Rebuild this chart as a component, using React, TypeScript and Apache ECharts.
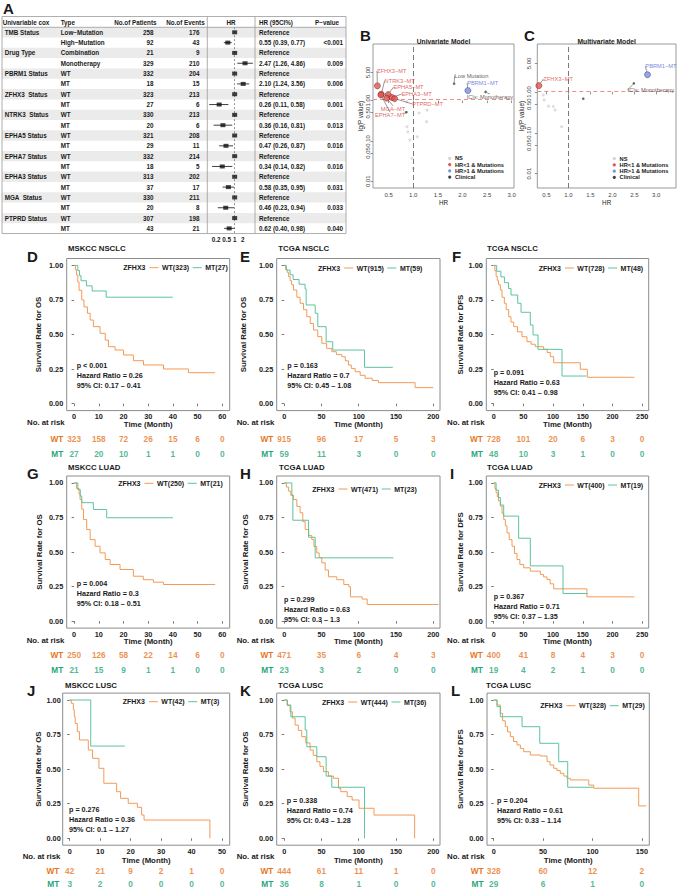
import { useEffect, useRef } from 'react';
import * as echarts from 'echarts';

const FONT = '"Liberation Sans", Arial, Helvetica, sans-serif';
const ORANGE = '#F39A55';
const TEAL = '#5DC39E';
const ORANGE_T = '#E8761E';
const TEAL_T = '#1FA67A';
const RED = '#E0544F';
const BLUE = '#7D8FE0';
const CLIN = '#2F4F3F';
const NSCOL = '#D4D4D4';

// ---------------- Panel A : univariable cox table ----------------
const A_VARIABLES = ['TMB Status', 'Drug Type', 'PBRM1 Status', 'ZFHX3  Status', 'NTRK3  Status', 'EPHA5 Status', 'EPHA7 Status', 'EPHA3 Status', 'MGA  Status', 'PTPRD Status'];
const A_TYPES = ['Low−Mutation', 'High−Mutation', 'Combination', 'Monotherapy', 'WT', 'MT', 'WT', 'MT', 'WT', 'MT', 'WT', 'MT', 'WT', 'MT', 'WT', 'MT', 'WT', 'MT', 'WT', 'MT'];
const A_PATIENTS = [258, 92, 21, 329, 332, 18, 323, 27, 330, 20, 321, 29, 332, 18, 313, 37, 330, 20, 307, 43];
const A_EVENTS = [176, 43, 9, 210, 204, 15, 213, 6, 213, 6, 208, 11, 214, 5, 202, 17, 211, 8, 198, 21];
const A_HR = [1, 0.55, 1, 2.47, 1, 2.10, 1, 0.26, 1, 0.36, 1, 0.47, 1, 0.34, 1, 0.58, 1, 0.46, 1, 0.62];
const A_LO = [null, 0.39, null, 1.26, null, 1.24, null, 0.11, null, 0.16, null, 0.26, null, 0.14, null, 0.35, null, 0.23, null, 0.40];
const A_HI = [null, 0.77, null, 4.86, null, 3.56, null, 0.58, null, 0.81, null, 0.87, null, 0.82, null, 0.95, null, 0.94, null, 0.98];
const A_HR_TEXT = ['Reference', '0.55 (0.39, 0.77)', 'Reference', '2.47 (1.26, 4.86)', 'Reference', '2.10 (1.24, 3.56)', 'Reference', '0.26 (0.11, 0.58)', 'Reference', '0.36 (0.16, 0.81)', 'Reference', '0.47 (0.26, 0.87)', 'Reference', '0.34 (0.14, 0.82)', 'Reference', '0.58 (0.35, 0.95)', 'Reference', '0.46 (0.23, 0.94)', 'Reference', '0.62 (0.40, 0.98)'];
const A_P = ['', '<0.001', '', '0.009', '', '0.006', '', '0.001', '', '0.013', '', '0.016', '', '0.016', '', '0.031', '', '0.033', '', '0.040'];
const A_TICKS = [0.2, 0.5, 1, 2];

// ---------------- Panel B : univariate model ----------------
const B_NS_HR = [0.83, 0.87, 0.89, 0.93, 1.08, 1.12, 1.27, 0.97, 1.0, 0.87, 1.28];
const B_NS_P = [0.50, 0.225, 0.169, 0.105, 0.127, 0.49, 0.30, 0.037, 0.021, 0.94, 0.58];
const B_RED_NAMES = ['ZFHX3−MT', 'NTRK3−MT', 'EPHA7−MT', 'EPHA5−MT', 'MGA−MT', 'EPHA3−MT', 'PTPRD−MT'];
const B_RED_HR = [0.27, 0.35, 0.34, 0.49, 0.46, 0.57, 0.62];
const B_RED_P = [2.32, 1.44, 1.38, 1.41, 1.15, 1.19, 1.12];
const B_BLUE_NAMES = ['PBRM1−MT'];
const B_BLUE_HR = [2.11];
const B_BLUE_P = [1.77];
const B_CLIN_NAMES = ['Low Mutation', 'ICIs: Monotherapy', ''];
const B_CLIN_HR = [1.83, 2.47, 0.86];
const B_CLIN_P = [2.64, 1.64, 0.515];

// ---------------- Panel C : multivariate model ----------------
const C_NS_HR = [0.43, 0.55, 0.66, 0.70, 0.85, 0.45];
const C_NS_P = [0.84, 0.45, 0.44, 0.36, 0.141, 0.64];
const C_RED_NAMES = ['ZFHX3−MT'];
const C_RED_HR = [0.33];
const C_RED_P = [1.43];
const C_BLUE_NAMES = ['PBRM1−MT'];
const C_BLUE_HR = [2.80];
const C_BLUE_P = [2.65];
const C_CLIN_NAMES = ['ICIs: Monotherapy', ''];
const C_CLIN_HR = [2.49, 1.34];
const C_CLIN_P = [1.63, 0.685];

const P_THRESHOLD = 1.06;
const HR_TICKS = [0.5, 1.0, 1.5, 2.0, 2.5, 3.0];
const P_TICKS = [0.01, 0.05, 0.10, 0.50, 1.00, 5.00, 10.00];
const LEGEND_LABELS = ['NS', 'HR<1 & Mutations', 'HR>1 & Mutations', 'Clinical'];

// ---------------- KM panels ----------------
const SURV_TICKS = [0, 0.25, 0.5, 0.75, 1];
const T60 = [0, 10, 20, 30, 40, 50, 60];
const T50 = [0, 10, 20, 30, 40, 50];
const T200 = [0, 50, 100, 150, 200];
const T250 = [0, 50, 100, 150, 200, 250];
const T150 = [0, 50, 100, 150];

const D_WT = [[0, 1], [0.5, 0.97], [1, 0.93], [1.5, 0.88], [2, 0.82], [3.1, 0.75], [4, 0.70], [5.4, 0.654], [6.5, 0.605], [7.8, 0.557], [10.5, 0.509], [12.6, 0.46], [13.9, 0.412], [16.6, 0.388], [20, 0.352], [24, 0.311], [28.1, 0.28], [36.2, 0.251], [46.3, 0.224], [57.1, 0.224]];
const D_MT = [[0, 1], [1.5, 0.963], [2.2, 0.926], [2.8, 0.889], [5, 0.852], [7.3, 0.815], [13, 0.77], [40, 0.77]];
const D_N = [323, 27];
const D_STATS = ['p < 0.001', '0.26', '0.17 – 0.41'];
const D_RISK_WT = [323, 158, 72, 26, 15, 6, 0];
const D_RISK_MT = [27, 20, 10, 1, 1, 0, 0];

const E_WT = [[0, 1], [2, 0.97], [4, 0.95], [6, 0.92], [8, 0.89], [10, 0.86], [12.5, 0.822], [17, 0.77], [21.4, 0.726], [26, 0.68], [30.4, 0.629], [35, 0.58], [39.3, 0.533], [45, 0.485], [50.5, 0.437], [57, 0.40], [63.9, 0.376], [70, 0.355], [77.3, 0.34], [82, 0.31], [86.2, 0.28], [90, 0.255], [95.2, 0.231], [102, 0.205], [108.6, 0.184], [118, 0.168], [126.4, 0.152], [175.6, 0.116], [200, 0.116]];
const E_MT = [[0, 1], [3, 0.966], [8, 0.932], [12, 0.898], [20, 0.864], [28, 0.83], [29.5, 0.714], [41.6, 0.654], [45.1, 0.557], [56.3, 0.448], [65.2, 0.388], [107.7, 0.263], [145.7, 0.263]];
const E_N = [915, 59];
const E_STATS = ['p = 0.163', '0.7', '0.45 – 1.08'];
const E_RISK_WT = [915, 96, 17, 5, 3];
const E_RISK_MT = [59, 11, 3, 0, 0];

const F_WT = [[0, 1], [2, 0.96], [4, 0.92], [6, 0.89], [8, 0.86], [11.2, 0.822], [14, 0.77], [17.9, 0.726], [21, 0.68], [25.2, 0.629], [29, 0.59], [33.6, 0.557], [40, 0.52], [47.6, 0.484], [56, 0.448], [63, 0.43], [70, 0.412], [84.1, 0.393], [90, 0.37], [95.3, 0.34], [101, 0.296], [145.8, 0.249], [157.6, 0.191], [237, 0.191]];
const F_MT = [[0, 1], [5, 0.958], [12, 0.917], [18, 0.875], [25, 0.833], [29.1, 0.786], [40.4, 0.726], [46, 0.661], [61.6, 0.569], [66.2, 0.497], [74.6, 0.393], [115, 0.2], [156, 0.2]];
const F_N = [728, 48];
const F_STATS = ['p = 0.091', '0.63', '0.41 – 0.98'];
const F_RISK_WT = [728, 101, 20, 6, 3, 0];
const F_RISK_MT = [48, 10, 3, 1, 0, 0];

const G_WT = [[0, 1], [1, 0.96], [2, 0.92], [2.4, 0.88], [3.1, 0.81], [3.8, 0.735], [5.1, 0.663], [6.5, 0.59], [8.5, 0.542], [10.5, 0.494], [12.6, 0.446], [14.6, 0.41], [18.6, 0.374], [24, 0.325], [28, 0.30], [32.1, 0.282], [36.2, 0.265], [57.1, 0.265]];
const G_MT = [[0, 1], [1.5, 0.952], [2.5, 0.905], [3.1, 0.857], [7.8, 0.808], [13.2, 0.748], [40, 0.748]];
const G_N = [250, 21];
const G_STATS = ['p = 0.004', '0.3', '0.18 – 0.51'];
const G_RISK_WT = [250, 126, 58, 22, 14, 6, 0];
const G_RISK_MT = [21, 15, 9, 1, 1, 0, 0];

const H_WT = [[0, 1], [3, 0.97], [6, 0.94], [9, 0.91], [12.5, 0.88], [17, 0.83], [21.4, 0.784], [25, 0.72], [28.2, 0.663], [33, 0.62], [37.1, 0.59], [40, 0.54], [43.8, 0.494], [47, 0.46], [50.5, 0.422], [55, 0.37], [59.4, 0.321], [70.6, 0.30], [80, 0.265], [86.8, 0.249], [88.9, 0.176], [104.6, 0.16], [111.3, 0.121], [207, 0.121]];
const H_MT = [[0, 1], [10.3, 0.913], [11.7, 0.73], [32.7, 0.607], [41.6, 0.458], [146.6, 0.458]];
const H_N = [471, 23];
const H_STATS = ['p = 0.299', '0.63', '0.3 – 1.3'];
const H_RISK_WT = [471, 35, 6, 4, 3];
const H_RISK_MT = [23, 3, 2, 0, 0];

const I_WT = [[0, 1], [2, 0.96], [4, 0.93], [6, 0.9], [8, 0.87], [11.2, 0.832], [14, 0.78], [16.8, 0.735], [19.5, 0.69], [22.4, 0.639], [26, 0.59], [30.8, 0.542], [35, 0.49], [39.2, 0.446], [44, 0.41], [50.5, 0.386], [61.6, 0.362], [78.5, 0.338], [84, 0.32], [89.7, 0.302], [95, 0.27], [101, 0.234], [157, 0.176], [237, 0.176]];
const I_MT = [[0, 1], [4, 0.947], [8, 0.895], [11.2, 0.84], [16.8, 0.76], [42, 0.60], [61.6, 0.40], [116.7, 0.20], [158, 0.20]];
const I_N = [400, 19];
const I_STATS = ['p = 0.367', '0.71', '0.37 – 1.35'];
const I_RISK_WT = [400, 41, 8, 4, 3, 0];
const I_RISK_MT = [19, 4, 2, 1, 0, 0];

const J_WT = [[0, 1], [0.5, 0.976], [1.2, 0.93], [1.5, 0.88], [1.8, 0.83], [2.5, 0.771], [3.2, 0.711], [6.1, 0.638], [7.5, 0.578], [9.6, 0.506], [11.2, 0.398], [15.4, 0.337], [16.7, 0.289], [19.2, 0.253], [22.2, 0.224], [23.6, 0.168], [24.4, 0.132], [46, 0.132], [46, 0]];
const J_MT = [[0, 1], [6.9, 0.667], [18.1, 0.667]];
const J_N = [42, 3];
const J_STATS = ['p = 0.276', '0.36', '0.1 – 1.27'];
const J_RISK_WT = [42, 21, 9, 2, 1, 0];
const J_RISK_MT = [3, 2, 0, 0, 0, 0];

const K_WT = [[0, 1], [1.3, 1], [4, 0.96], [8, 0.915], [11, 0.87], [14.7, 0.819], [19, 0.78], [23.6, 0.735], [29, 0.69], [34.8, 0.638], [39, 0.6], [43.8, 0.554], [48, 0.52], [52.7, 0.482], [59.4, 0.45], [66.1, 0.434], [72.9, 0.362], [75.9, 0.337], [84.5, 0.301], [91.2, 0.277], [100.4, 0.217], [120.5, 0.168], [175, 0.168], [175, 0]];
const K_MT = [[0, 1], [4.4, 0.964], [9, 0.879], [28.2, 0.783], [30.4, 0.662], [43.8, 0.59], [56.3, 0.45], [63.9, 0.369], [107.7, 0.369], [107.7, 0]];
const K_N = [444, 36];
const K_STATS = ['p = 0.338', '0.74', '0.43 – 1.28'];
const K_RISK_WT = [444, 61, 11, 1, 0];
const K_RISK_MT = [36, 8, 1, 0, 0];

const L_WT = [[0, 1], [3.3, 0.964], [6.7, 0.904], [9, 0.85], [11.7, 0.807], [14, 0.77], [16.8, 0.735], [20, 0.70], [23.6, 0.675], [27, 0.65], [30.4, 0.626], [37.1, 0.602], [47.2, 0.595], [54, 0.554], [57, 0.53], [60.7, 0.506], [64, 0.49], [67.4, 0.47], [71, 0.45], [74.2, 0.434], [77.5, 0.422], [96.2, 0.385], [101.2, 0.362], [146.8, 0.234], [154.5, 0.234]];
const L_MT = [[0, 1], [3.3, 0.952], [6.7, 0.879], [28.7, 0.807], [46.6, 0.687], [65.8, 0.554], [74.9, 0.369], [100.5, 0.369]];
const L_N = [328, 29];
const L_STATS = ['p = 0.204', '0.61', '0.33 – 1.14'];
const L_RISK_WT = [328, 60, 12, 2];
const L_RISK_MT = [29, 6, 1, 0];

// ---------------- layout (positions only) ----------------
const ROWS = [
  { top: 258.5, letterY: 256.7, titleY: 248.3, narY: 422.7, riskWT: 438.7, timeY: 424.3 },
  { top: 476.0, letterY: 473.3, titleY: 467.3, narY: 640.3, riskWT: 655.0, timeY: 641.6 },
  { top: 693.1, letterY: 690.7, titleY: 685.0, narY: 856.0, riskWT: 872.3, timeY: 860.0 },
];
const PLOT_H = 152.1;

const PANELS = [
  { letter: 'D', title: 'MSKCC NSCLC', out: 'OS', row: 0, left: 66.7, right: 229.7, xmin: -3, xmax: 63, ticks: T60, wt: D_WT, mt: D_MT, n: D_N, stats: D_STATS, rw: D_RISK_WT, rm: D_RISK_MT, lx: 27, tx: 68, ytx: 38, legX: 123.3, legY: 267.7, annX: 76.7, annY: 365.3, narX: 27 },
  { letter: 'E', title: 'TCGA NSCLC', out: 'OS', row: 0, left: 276.7, right: 440, xmin: -10, xmax: 209, ticks: T200, wt: E_WT, mt: E_MT, n: E_N, stats: E_STATS, rw: E_RISK_WT, rm: E_RISK_MT, lx: 240, tx: 278.3, ytx: 243.3, legX: 318, legY: 268, annX: 287.3, annY: 365.3, narX: 236.7 },
  { letter: 'F', title: 'TCGA NSCLC', out: 'DFS', row: 0, left: 486.3, right: 648.7, xmin: -12.5, xmax: 261, ticks: T250, wt: F_WT, mt: F_MT, n: F_N, stats: F_STATS, rw: F_RISK_WT, rm: F_RISK_MT, lx: 452, tx: 487, ytx: 460.3, legX: 538.7, legY: 268, annX: 493.7, annY: 372.3, narX: 447 },
  { letter: 'G', title: 'MSKCC LUAD', out: 'OS', row: 1, left: 66.7, right: 229.7, xmin: -3, xmax: 63, ticks: T60, wt: G_WT, mt: G_MT, n: G_N, stats: G_STATS, rw: G_RISK_WT, rm: G_RISK_MT, lx: 27, tx: 68, ytx: 39, legX: 118.3, legY: 483.3, annX: 76.7, annY: 583.7, narX: 26.7 },
  { letter: 'H', title: 'TCGA LUAD', out: 'OS', row: 1, left: 276.7, right: 440, xmin: -10, xmax: 209, ticks: T200, wt: H_WT, mt: H_MT, n: H_N, stats: H_STATS, rw: H_RISK_WT, rm: H_RISK_MT, lx: 240, tx: 279, ytx: 245, legX: 312.3, legY: 489, annX: 284, annY: 599, narX: 236.7 },
  { letter: 'I', title: 'TCGA LUAD', out: 'DFS', row: 1, left: 486.3, right: 648.7, xmin: -12.5, xmax: 261, ticks: T250, wt: I_WT, mt: I_MT, n: I_N, stats: I_STATS, rw: I_RISK_WT, rm: I_RISK_MT, lx: 450, tx: 487, ytx: 460.3, legX: 538.7, legY: 485, annX: 493.7, annY: 596.7, narX: 447 },
  { letter: 'J', title: 'MSKCC LUSC', out: 'OS', row: 2, left: 62.7, right: 229.7, xmin: -2.3, xmax: 52.5, ticks: T50, wt: J_WT, mt: J_MT, n: J_N, stats: J_STATS, rw: J_RISK_WT, rm: J_RISK_MT, lx: 27, tx: 65, ytx: 38.3, legX: 122.7, legY: 701.7, annX: 69, annY: 809.3, narX: 22.7 },
  { letter: 'K', title: 'TCGA LUSC', out: 'OS', row: 2, left: 276.7, right: 440, xmin: -10, xmax: 209, ticks: T200, wt: K_WT, mt: K_MT, n: K_N, stats: K_STATS, rw: K_RISK_WT, rm: K_RISK_MT, lx: 240, tx: 278, ytx: 245, legX: 322, legY: 702, annX: 286.7, annY: 800.7, narX: 236.7 },
  { letter: 'L', title: 'TCGA LUSC', out: 'DFS', row: 2, left: 487, right: 649.3, xmin: -6.8, xmax: 157.5, ticks: T150, wt: L_WT, mt: L_MT, n: L_N, stats: L_STATS, rw: L_RISK_WT, rm: L_RISK_MT, lx: 451, tx: 486, ytx: 460.3, legX: 540.3, legY: 705.7, annX: 497, annY: 800.7, narX: 447 },
];

let measureCtx: CanvasRenderingContext2D | null = null;
function textWidth(t: string, size: number, weight = 'bold') {
  if (!measureCtx) {
    const c = document.createElement('canvas');
    measureCtx = c.getContext('2d');
  }
  if (!measureCtx) return t.length * size * 0.55;
  measureCtx.font = `${weight} ${size}px "Liberation Sans", Arial, sans-serif`;
  return measureCtx.measureText(t).width;
}

function txt(text: string, x: number, y: number, o: any = {}) {
  return {
    type: 'text',
    x,
    y,
    rotation: o.rot ?? 0,
    silent: true,
    z: 100,
    style: {
      text,
      fill: o.fill ?? '#1a1a1a',
      fontSize: o.size ?? 7,
      fontWeight: o.weight ?? 'bold',
      fontFamily: FONT,
      textAlign: o.align ?? 'left',
      align: o.align ?? 'left',
      textVerticalAlign: 'middle',
      verticalAlign: 'middle',
    },
  };
}
function seg(x1: number, y1: number, x2: number, y2: number, stroke: string, w = 1, dash: any = null) {
  return {
    type: 'line',
    silent: true,
    z: 90,
    shape: { x1, y1, x2, y2 },
    style: { stroke, lineWidth: w, lineDash: dash },
  };
}

function buildOption() {
  const grid: any[] = [];
  const xAxis: any[] = [];
  const yAxis: any[] = [];
  const series: any[] = [];
  const graphic: any[] = [];

  // ================= Panel A =================
  const rowH = 10.32;
  const rowC = (i: number) => 32.3 + i * rowH;
  const TL = 2, TR = 346, TT = 16.5, TB = rowC(19) + rowH / 2;
  graphic.push(txt('A', 3, 8.7, { size: 15 }));
  A_TYPES.forEach((_, i) => {
    if (i % 2 === 0) {
      graphic.push({ type: 'rect', silent: true, z: 1, shape: { x: TL, y: rowC(i) - rowH / 2, width: TR - TL, height: rowH }, style: { fill: '#EBEBEB' } });
    }
  });
  graphic.push({ type: 'rect', silent: true, z: 95, shape: { x: TL, y: TT, width: TR - TL, height: TB - TT }, style: { fill: 'none', stroke: '#9A9A9A', lineWidth: 0.8 } });
  graphic.push(seg(TL, 27.3, TR, 27.3, '#9A9A9A', 0.8));
  graphic.push(seg(207.3, TT, 207.3, TB, '#9A9A9A', 0.8));
  graphic.push(seg(255, TT, 255, TB, '#9A9A9A', 0.8));
  const FS = 6.3;
  const hy = 22;
  graphic.push(txt('Univariable cox', 2.7, hy, { size: FS }));
  graphic.push(txt('Type', 60.7, hy, { size: FS }));
  graphic.push(txt('No.of Patients', 156.5, hy, { size: FS, align: 'right' }));
  graphic.push(txt('No.of Events', 204.7, hy, { size: FS, align: 'right' }));
  graphic.push(txt('HR', 231, hy, { size: FS, align: 'center' }));
  graphic.push(txt('HR (95CI%)', 259, hy, { size: FS }));
  graphic.push(txt('P−value', 315, hy, { size: FS }));
  A_VARIABLES.forEach((v, k) => graphic.push(txt(v, 4.7, rowC(2 * k), { size: FS })));
  A_TYPES.forEach((t, i) => {
    graphic.push(txt(t, 60.7, rowC(i), { size: FS }));
    graphic.push(txt(String(A_PATIENTS[i]), 153.5, rowC(i), { size: FS, align: 'right' }));
    graphic.push(txt(String(A_EVENTS[i]), 199.5, rowC(i), { size: FS, align: 'right' }));
    graphic.push(txt(A_HR_TEXT[i], 259, rowC(i), { size: FS }));
    if (A_P[i]) graphic.push(txt(A_P[i], 343, rowC(i), { size: FS, align: 'right' }));
  });

  // forest grid
  {
    const gi = grid.length;
    grid.push({ left: 208, top: rowC(0) - rowH / 2, width: 47, height: rowH * 20, show: false });
    xAxis.push({
      gridIndex: gi, type: 'value', min: -2.32, max: 1.77,
      axisLine: { show: false }, splitLine: { show: false },
      axisTick: { show: false },
      axisLabel: {
        show: true, customValues: A_TICKS.map(Math.log), margin: 3,
        formatter: (v: number) => String(Number(Math.exp(v).toPrecision(2))),
        fontSize: FS, fontWeight: 'bold', color: '#1a1a1a', fontFamily: FONT,
      },
    });
    yAxis.push({ gridIndex: gi, type: 'category', inverse: true, data: A_TYPES.map((_, i) => String(i)), show: false });
    series.push({
      type: 'custom', xAxisIndex: gi, yAxisIndex: gi, silent: true, z: 5,
      dimensions: ['lo', 'hi', 'row'],
      encode: { x: [0, 1], y: 2 },
      data: A_HR.map((_, i) => (A_LO[i] == null ? null : [Math.log(A_LO[i] as number), Math.log(A_HI[i] as number), i])).filter((d) => d),
      renderItem: (_p: any, api: any) => {
        const a = api.coord([api.value(0), api.value(2)]);
        const b = api.coord([api.value(1), api.value(2)]);
        return { type: 'line', shape: { x1: a[0], y1: a[1], x2: b[0], y2: b[1] }, style: { stroke: '#111', lineWidth: 0.8 } };
      },
    });
    series.push({
      type: 'scatter', xAxisIndex: gi, yAxisIndex: gi, silent: true, z: 6,
      symbol: 'rect', symbolSize: [5, 4], itemStyle: { color: '#111' },
      data: A_HR.map((h, i) => [Math.log(h), i]),
      markLine: {
        silent: true, symbol: 'none', label: { show: false },
        lineStyle: { color: '#777', type: [2, 2], width: 0.8 },
        data: [{ xAxis: 0 }],
      },
    });
  }

  // ================= Panels B & C =================
  const volcano = (cfg: any) => {
    const gi = grid.length;
    grid.push({ left: cfg.left, top: 44, width: cfg.width, height: 144, show: true, borderColor: '#808080', borderWidth: 0.8, backgroundColor: 'transparent' });
    xAxis.push({
      gridIndex: gi, type: 'value', min: cfg.xmin, max: cfg.xmax,
      axisLine: { show: false }, splitLine: { show: false },
      axisTick: { show: true, customValues: HR_TICKS, length: 2.5, lineStyle: { color: '#666', width: 0.7 } },
      axisLabel: { show: true, customValues: HR_TICKS, formatter: (v: number) => v.toFixed(1), fontSize: 6, color: '#444', margin: 3.5, fontFamily: FONT },
    });
    yAxis.push({
      gridIndex: gi, type: 'value', min: cfg.ymin, max: cfg.ymax,
      axisLine: { show: false }, splitLine: { show: false },
      axisTick: { show: true, customValues: P_TICKS.map(Math.log10), length: 2.5, lineStyle: { color: '#666', width: 0.7 } },
      axisLabel: {
        show: true, customValues: P_TICKS.map(Math.log10), rotate: 90, align: 'center', verticalAlign: 'bottom',
        formatter: (v: number) => Math.pow(10, v).toFixed(2), fontSize: 6, color: '#444', margin: cfg.ylMargin, fontFamily: FONT,
      },
    });
    const lbl = (color: string, offs: number[][]) => ({
      label: { show: true, position: 'inside', formatter: (p: any) => p.name, fontSize: 5.7, color, fontFamily: FONT },
      labelLayout: (p: any) => ({ dx: offs[p.dataIndex][0], dy: offs[p.dataIndex][1] }),
      labelLine: { show: true, lineStyle: { color: '#333', width: 0.5 } },
    });
    series.push({
      type: 'scatter', xAxisIndex: gi, yAxisIndex: gi, silent: true, z: 3, symbolSize: 3,
      itemStyle: { color: NSCOL },
      data: cfg.nsHR.map((h: number, i: number) => [h, Math.log10(cfg.nsP[i])]),
      markLine: {
        silent: true, symbol: 'none', label: { show: false },
        data: [
          { yAxis: Math.log10(P_THRESHOLD), lineStyle: { color: '#F28B8B', type: [4, 3], width: 1.2 } },
          { xAxis: 1, lineStyle: { color: '#7a7a7a', type: [5, 3], width: 1 } },
        ],
      },
    });
    series.push({
      type: 'scatter', xAxisIndex: gi, yAxisIndex: gi, silent: true, z: 5, symbolSize: 2.6,
      itemStyle: { color: CLIN },
      data: cfg.clinHR.map((h: number, i: number) => ({ name: cfg.clinN[i], value: [h, Math.log10(cfg.clinP[i])] })),
      ...lbl('#333', cfg.clinOff),
    });
    series.push({
      type: 'scatter', xAxisIndex: gi, yAxisIndex: gi, silent: true, z: 6, symbolSize: 6,
      itemStyle: { color: RED, borderColor: '#6b1c1c', borderWidth: 0.6 },
      data: cfg.redHR.map((h: number, i: number) => ({ name: cfg.redN[i], value: [h, Math.log10(cfg.redP[i])] })),
      ...lbl('#D33A3A', cfg.redOff),
    });
    series.push({
      type: 'scatter', xAxisIndex: gi, yAxisIndex: gi, silent: true, z: 6, symbolSize: 6,
      itemStyle: { color: BLUE, borderColor: '#27337a', borderWidth: 0.6 },
      data: cfg.blueHR.map((h: number, i: number) => ({ name: cfg.blueN[i], value: [h, Math.log10(cfg.blueP[i])] })),
      ...lbl('#5468D4', cfg.blueOff),
    });
    const cx = cfg.left + cfg.width / 2;
    graphic.push(txt(cfg.letter, cfg.letterX, 35.5, { size: 15 }));
    graphic.push(txt(cfg.title, cx, 41, { size: 6.7, align: 'center' }));
    graphic.push(txt('HR', cx, 202.5, { size: 6.3, weight: 'normal', align: 'center', fill: '#222' }));
    graphic.push(txt('lg(P value)', cfg.left - cfg.ytGap, 116, { size: 6.3, weight: 'normal', align: 'center', fill: '#222', rot: Math.PI / 2 }));
    const legCols = [NSCOL, RED, BLUE, CLIN];
    LEGEND_LABELS.forEach((l, k) => {
      const y = cfg.legY + k * 6.25;
      graphic.push({ type: 'circle', silent: true, z: 100, shape: { cx: cfg.legDot, cy: y, r: 1.6 }, style: { fill: legCols[k] } });
      graphic.push(txt(l, cfg.legDot + 5.3, y, { size: 5.7 }));
    });
  };
  volcano({
    letter: 'B', letterX: 360, title: 'Univariate Model', left: 373, width: 141, xmin: 0.181, xmax: 3.047,
    ymin: -2.169, ymax: 1.404, ylMargin: 2.5, ytGap: 12.3,
    nsHR: B_NS_HR, nsP: B_NS_P,
    redN: B_RED_NAMES, redHR: B_RED_HR, redP: B_RED_P,
    redOff: [[14.4, -15.3], [18.4, -13.6], [9.2, 20.2], [20.3, -7.4], [6.3, 10.7], [24.4, -3.4], [33, 5.3]],
    blueN: B_BLUE_NAMES, blueHR: B_BLUE_HR, blueP: B_BLUE_P, blueOff: [[14.8, -7.7]],
    clinN: B_CLIN_NAMES, clinHR: B_CLIN_HR, clinP: B_CLIN_P, clinOff: [[17.4, -8], [4.3, 5.3], [0, 0]],
    legY: 158.3, legDot: 449.7,
  });
  volcano({
    letter: 'C', letterX: 524, title: 'Multivariate Model', left: 537.3, width: 138.7, xmin: 0.295, xmax: 3.448,
    ymin: -2.353, ymax: 1.176, ylMargin: 5, ytGap: 15.6,
    nsHR: C_NS_HR, nsP: C_NS_P,
    redN: C_RED_NAMES, redHR: C_RED_HR, redP: C_RED_P, redOff: [[19.3, -6.7]],
    blueN: C_BLUE_NAMES, blueHR: C_BLUE_HR, blueP: C_BLUE_P, blueOff: [[13.4, -8.4]],
    clinN: C_CLIN_NAMES, clinHR: C_CLIN_HR, clinP: C_CLIN_P, clinOff: [[17, 6.7], [0, 0]],
    legY: 158.7, legDot: 614.3,
  });

  // ================= KM panels =================
  PANELS.forEach((p) => {
    const r = ROWS[p.row];
    const width = p.right - p.left;
    const gi = grid.length;
    grid.push({ left: p.left, top: r.top, width, height: PLOT_H, show: true, borderColor: '#8C8C8C', borderWidth: 1, backgroundColor: 'transparent' });
    xAxis.push({
      gridIndex: gi, type: 'value', min: p.xmin, max: p.xmax,
      axisLine: { show: false }, splitLine: { show: false },
      axisTick: { show: true, customValues: p.ticks, length: 2.5, lineStyle: { color: '#555', width: 0.8 } },
      axisLabel: { show: true, customValues: p.ticks, fontSize: 7.3, fontWeight: 'bold', color: '#222', margin: 2.5, fontFamily: FONT },
    });
    yAxis.push({
      gridIndex: gi, type: 'value', min: -0.05, max: 1.05,
      axisLine: { show: false }, splitLine: { show: false },
      axisTick: { show: true, customValues: SURV_TICKS, length: 2.5, lineStyle: { color: '#555', width: 0.8 } },
      axisLabel: { show: true, customValues: SURV_TICKS, formatter: (v: number) => v.toFixed(2), fontSize: 7.3, fontWeight: 'bold', color: '#222', margin: p.letter === 'J' ? 2 : 3.5, fontFamily: FONT },
    });
    series.push({
      type: 'line', xAxisIndex: gi, yAxisIndex: gi, silent: true, step: 'end', symbol: 'none', showSymbol: false,
      lineStyle: { color: ORANGE, width: 1 }, itemStyle: { color: ORANGE }, data: p.wt, z: 3,
    });
    series.push({
      type: 'line', xAxisIndex: gi, yAxisIndex: gi, silent: true, step: 'end', symbol: 'none', showSymbol: false,
      lineStyle: { color: TEAL, width: 1 }, itemStyle: { color: TEAL }, data: p.mt, z: 4,
    });

    // risk table grid
    const ri = grid.length;
    const rh = 30.6;
    grid.push({ left: p.left, top: r.riskWT - rh / 4, width, height: rh, show: false });
    xAxis.push({ gridIndex: ri, type: 'value', min: p.xmin, max: p.xmax, show: false });
    yAxis.push({
      gridIndex: ri, type: 'category', inverse: true, data: ['WT', 'MT'],
      axisLine: { show: false }, axisTick: { show: false }, splitLine: { show: false },
      axisLabel: {
        show: true, margin: 3.4, interval: 0,
        formatter: (v: string) => (v === 'WT' ? '{w|WT}' : '{m|MT}'),
        rich: {
          w: { color: ORANGE_T, fontSize: 8.3, fontWeight: 'bold', fontFamily: FONT },
          m: { color: TEAL_T, fontSize: 8.3, fontWeight: 'bold', fontFamily: FONT },
        },
      },
    });
    const riskSeries = (vals: number[], row: number, color: string) => ({
      type: 'scatter', xAxisIndex: ri, yAxisIndex: ri, silent: true, symbolSize: 1,
      itemStyle: { color: 'rgba(0,0,0,0)' },
      data: p.ticks.map((t, k) => [t, row, vals[k]]),
      label: { show: true, position: 'inside', formatter: (q: any) => String(q.value[2]), color, fontSize: 8.3, fontWeight: 'bold', fontFamily: FONT },
    });
    series.push(riskSeries(p.rw, 0, ORANGE_T));
    series.push(riskSeries(p.rm, 1, TEAL_T));

    graphic.push(txt(p.letter, p.lx, r.letterY, { size: 15 }));
    graphic.push(txt(p.title, p.tx, r.titleY, { size: 7.8 }));
    graphic.push(txt(`Survival Rate for ${p.out}`, p.ytx, r.top + PLOT_H / 2, { size: 7.8, align: 'center', rot: Math.PI / 2 }));
    graphic.push(txt('Time (Month)', p.left + width / 2, r.timeY, { size: 7.8, align: 'center' }));
    graphic.push(txt('No. at risk', p.narX, r.narY, { size: 7.8 }));
    graphic.push(txt(p.stats[0], p.annX, p.annY, { size: 7.2 }));
    graphic.push(txt(`Hazard Ratio = ${p.stats[1]}`, p.annX, p.annY + 10, { size: 7.2 }));
    graphic.push(txt(`95% CI: ${p.stats[2]}`, p.annX, p.annY + 20, { size: 7.2 }));
    let lx = p.legX;
    const ly = p.legY;
    graphic.push(txt('ZFHX3', lx, ly, { size: 7 }));
    lx += textWidth('ZFHX3', 7) + 4;
    graphic.push(seg(lx, ly, lx + 9, ly, ORANGE, 1));
    lx += 12.5;
    const wl = `WT(${p.n[0]})`;
    graphic.push(txt(wl, lx, ly, { size: 7 }));
    lx += textWidth(wl, 7) + 3.5;
    graphic.push(seg(lx, ly, lx + 9, ly, TEAL, 1));
    lx += 12.5;
    graphic.push(txt(`MT(${p.n[1]})`, lx, ly, { size: 7 }));
  });

  return {
    animation: false,
    backgroundColor: '#ffffff',
    textStyle: { fontFamily: FONT },
    grid,
    xAxis,
    yAxis,
    series,
    graphic: { elements: graphic },
  };
}

export default function App() {
  const ref = useRef<HTMLDivElement>(null);
  useEffect(() => {
    document.body.style.margin = '0';
    if (!ref.current) return;
    const chart = echarts.init(ref.current, null, { renderer: 'svg' });
    chart.setOption(buildOption() as any);
    return () => chart.dispose();
  }, []);
  return <div ref={ref} style={{ position: 'fixed', left: 0, top: 0, width: 677, height: 891, background: '#fff' }} />;
}
